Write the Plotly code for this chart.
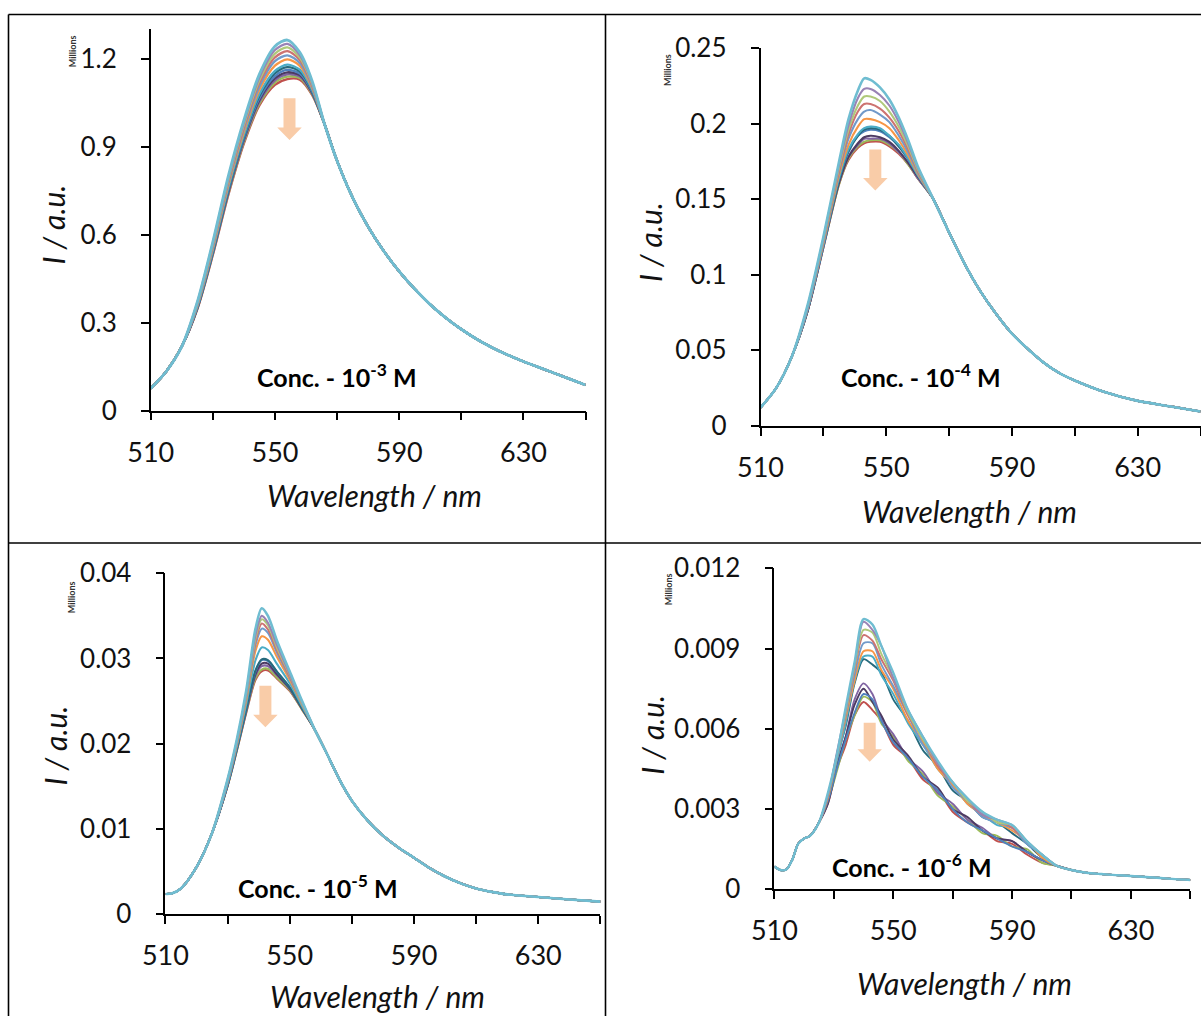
import plotly.graph_objects as go

W, H = 1201, 1016

# Series colours, drawn from the lowest-peak spectrum to the highest-peak spectrum
COLORS = ["#C0504D", "#9BBB59", "#8064A2", "#4D3B62", "#4F81BD", "#276A7C",
          "#4BACC6", "#F79646", "#729ACA", "#CD7371", "#AFC97A", "#9983B5", "#6FBDD1"]

# ---------------- Panel A : Conc. 10^-3 M (values in millions) ----------------
WL_A_LEFT = [510, 515, 520]
I_A_LEFT = [0.075, 0.133, 0.218]
WL_A_MID = [525, 530, 535, 540, 545, 550, 554, 558, 562]
I_A_MID = [
    [0.345, 0.530, 0.735, 0.910, 1.040, 1.110, 1.130, 1.128, 1.075],
    [0.347, 0.533, 0.739, 0.915, 1.046, 1.118, 1.138, 1.134, 1.078],
    [0.348, 0.535, 0.743, 0.920, 1.053, 1.126, 1.146, 1.139, 1.081],
    [0.349, 0.538, 0.746, 0.924, 1.059, 1.133, 1.153, 1.144, 1.083],
    [0.351, 0.540, 0.750, 0.928, 1.065, 1.140, 1.161, 1.149, 1.086],
    [0.353, 0.544, 0.755, 0.934, 1.073, 1.150, 1.171, 1.156, 1.090],
    [0.354, 0.546, 0.759, 0.939, 1.079, 1.158, 1.179, 1.162, 1.093],
    [0.358, 0.553, 0.768, 0.950, 1.094, 1.176, 1.197, 1.175, 1.099],
    [0.360, 0.558, 0.775, 0.959, 1.105, 1.191, 1.211, 1.185, 1.104],
    [0.363, 0.562, 0.782, 0.967, 1.117, 1.204, 1.225, 1.195, 1.109],
    [0.365, 0.567, 0.788, 0.975, 1.127, 1.217, 1.238, 1.203, 1.114],
    [0.368, 0.571, 0.794, 0.982, 1.136, 1.229, 1.250, 1.212, 1.118],
    [0.370, 0.575, 0.800, 0.990, 1.147, 1.242, 1.263, 1.221, 1.123],
]
WL_A_RIGHT = [566, 570, 575, 580, 585, 590, 595, 600, 605, 610, 615, 620, 625, 630, 635, 640, 645, 650]
I_A_RIGHT = [0.975, 0.851, 0.726, 0.626, 0.544, 0.474, 0.414, 0.361, 0.316, 0.277, 0.243, 0.214,
             0.189, 0.167, 0.147, 0.127, 0.107, 0.087]

# ---------------- Panel B : Conc. 10^-4 M ----------------
WL_B_LEFT = [510, 515, 520]
I_B_LEFT = [0.012, 0.025, 0.046]
WL_B_MID = [525, 530, 535, 538, 541, 543, 545, 548, 551, 554, 557, 560]
I_B_MID = [
    [0.076, 0.118, 0.160, 0.176, 0.184, 0.187, 0.188, 0.188, 0.185, 0.180, 0.173, 0.164],
    [0.076, 0.118, 0.160, 0.177, 0.185, 0.188, 0.189, 0.189, 0.186, 0.181, 0.173, 0.164],
    [0.076, 0.118, 0.161, 0.178, 0.186, 0.190, 0.190, 0.190, 0.187, 0.181, 0.174, 0.164],
    [0.076, 0.119, 0.161, 0.178, 0.187, 0.191, 0.192, 0.191, 0.188, 0.182, 0.174, 0.165],
    [0.077, 0.119, 0.163, 0.181, 0.192, 0.195, 0.196, 0.195, 0.191, 0.185, 0.176, 0.166],
    [0.077, 0.120, 0.163, 0.182, 0.192, 0.196, 0.197, 0.196, 0.192, 0.185, 0.177, 0.166],
    [0.077, 0.120, 0.164, 0.183, 0.193, 0.197, 0.198, 0.197, 0.192, 0.186, 0.177, 0.166],
    [0.078, 0.121, 0.166, 0.186, 0.198, 0.203, 0.203, 0.201, 0.197, 0.189, 0.179, 0.167],
    [0.078, 0.122, 0.168, 0.190, 0.203, 0.208, 0.209, 0.206, 0.201, 0.192, 0.181, 0.168],
    [0.079, 0.122, 0.169, 0.193, 0.208, 0.213, 0.213, 0.210, 0.204, 0.195, 0.183, 0.169],
    [0.079, 0.123, 0.171, 0.196, 0.212, 0.218, 0.218, 0.215, 0.208, 0.198, 0.185, 0.170],
    [0.079, 0.124, 0.173, 0.199, 0.217, 0.223, 0.223, 0.219, 0.212, 0.201, 0.187, 0.171],
    [0.080, 0.125, 0.175, 0.203, 0.222, 0.230, 0.229, 0.224, 0.216, 0.204, 0.189, 0.172],
]
WL_B_RIGHT = [565, 570, 575, 580, 585, 590, 595, 600, 605, 610, 620, 630, 640, 650]
I_B_RIGHT = [0.150, 0.128, 0.107, 0.089, 0.074, 0.061, 0.051, 0.042, 0.035, 0.030, 0.022, 0.0165, 0.013, 0.0095]

# ---------------- Panel C : Conc. 10^-5 M ----------------
WL_C_LEFT = [510, 512, 515, 520, 525]
I_C_LEFT = [0.00235, 0.0024, 0.0030, 0.0055, 0.0095]
WL_C_MID = [530, 533, 536, 539, 541, 543, 546, 550, 554]
I_C_MID = [
    [0.0150, 0.0192, 0.0236, 0.0275, 0.0285, 0.0286, 0.0276, 0.0262, 0.0240],
    [0.0150, 0.0192, 0.0237, 0.0277, 0.0287, 0.0288, 0.0277, 0.0263, 0.0240],
    [0.0151, 0.0193, 0.0238, 0.0280, 0.0291, 0.0291, 0.0280, 0.0264, 0.0241],
    [0.0151, 0.0194, 0.0239, 0.0282, 0.0294, 0.0294, 0.0281, 0.0265, 0.0241],
    [0.0151, 0.0194, 0.0240, 0.0285, 0.0298, 0.0297, 0.0284, 0.0266, 0.0242],
    [0.0152, 0.0195, 0.0241, 0.0286, 0.0299, 0.0298, 0.0284, 0.0266, 0.0242],
    [0.0153, 0.0197, 0.0246, 0.0298, 0.0313, 0.0310, 0.0293, 0.0271, 0.0244],
    [0.0155, 0.0199, 0.0251, 0.0309, 0.0326, 0.0322, 0.0301, 0.0275, 0.0246],
    [0.0155, 0.0201, 0.0254, 0.0316, 0.0335, 0.0330, 0.0306, 0.0278, 0.0247],
    [0.0156, 0.0202, 0.0256, 0.0320, 0.0341, 0.0334, 0.0309, 0.0279, 0.0248],
    [0.0157, 0.0203, 0.0257, 0.0324, 0.0346, 0.0339, 0.0312, 0.0281, 0.0248],
    [0.0157, 0.0203, 0.0259, 0.0328, 0.0350, 0.0342, 0.0315, 0.0282, 0.0249],
    [0.0158, 0.0205, 0.0262, 0.0335, 0.0359, 0.0350, 0.0320, 0.0285, 0.0250],
]
WL_C_RIGHT = [558, 562, 566, 570, 575, 580, 585, 590, 595, 600, 605, 610, 615, 620, 630, 640, 650]
I_C_RIGHT = [0.0217, 0.0188, 0.0158, 0.0133, 0.0110, 0.0092, 0.0078, 0.0066, 0.0054, 0.0044,
             0.0036, 0.0030, 0.0026, 0.0023, 0.0020, 0.0017, 0.00145]

# ---------------- Panel D : Conc. 10^-6 M ----------------
WL_D_LEFT = [510, 512, 514, 516, 518, 520, 522, 525]
I_D_LEFT = [0.00085, 0.00072, 0.00074, 0.0011, 0.0017, 0.0019, 0.0020, 0.0025]
WL_D_MID = [528, 531, 534, 537, 540, 543, 546, 550, 555, 560, 565, 570, 575, 580, 585, 590, 595, 600]
I_D_MID = [
    [0.0032, 0.0045, 0.0054, 0.0065, 0.0070, 0.0067, 0.0063, 0.0054, 0.0049, 0.0041, 0.0037, 0.0029, 0.0025, 0.0022, 0.0018, 0.0017, 0.0013, 0.0010],
    [0.0033, 0.0044, 0.0056, 0.0065, 0.0072, 0.0070, 0.0062, 0.0057, 0.0048, 0.0043, 0.0035, 0.0031, 0.0026, 0.0021, 0.0020, 0.0016, 0.0015, 0.0010],
    [0.0033, 0.0047, 0.0057, 0.0071, 0.0077, 0.0073, 0.0064, 0.0058, 0.0049, 0.0044, 0.0036, 0.0032, 0.0026, 0.0023, 0.0019, 0.0018, 0.0014, 0.0011],
    [0.0032, 0.0046, 0.0057, 0.0069, 0.0075, 0.0070, 0.0065, 0.0056, 0.0050, 0.0042, 0.0038, 0.0030, 0.0027, 0.0022, 0.0019, 0.0018, 0.0014, 0.0011],
    [0.0033, 0.0045, 0.0056, 0.0066, 0.0073, 0.0071, 0.0063, 0.0055, 0.0049, 0.0042, 0.0037, 0.0030, 0.0025, 0.0022, 0.0019, 0.0016, 0.0014, 0.0011],
    [0.0034, 0.0049, 0.0061, 0.0077, 0.0086, 0.0084, 0.0081, 0.0071, 0.0063, 0.0052, 0.0046, 0.0037, 0.0033, 0.0027, 0.0025, 0.0021, 0.0017, 0.0012],
    [0.0035, 0.0048, 0.0062, 0.0078, 0.0087, 0.0087, 0.0080, 0.0073, 0.0062, 0.0054, 0.0045, 0.0039, 0.0032, 0.0028, 0.0024, 0.0023, 0.0017, 0.0013],
    [0.0034, 0.0049, 0.0064, 0.0078, 0.0089, 0.0089, 0.0082, 0.0075, 0.0063, 0.0055, 0.0045, 0.0039, 0.0032, 0.0028, 0.0025, 0.0022, 0.0018, 0.0012],
    [0.0035, 0.0049, 0.0065, 0.0080, 0.0092, 0.0092, 0.0084, 0.0076, 0.0065, 0.0054, 0.0047, 0.0038, 0.0033, 0.0027, 0.0025, 0.0023, 0.0017, 0.0013],
    [0.0035, 0.0050, 0.0065, 0.0082, 0.0095, 0.0093, 0.0086, 0.0078, 0.0065, 0.0056, 0.0046, 0.0040, 0.0033, 0.0028, 0.0026, 0.0023, 0.0018, 0.0013],
    [0.0035, 0.0050, 0.0066, 0.0083, 0.0097, 0.0096, 0.0088, 0.0079, 0.0066, 0.0056, 0.0047, 0.0040, 0.0033, 0.0029, 0.0025, 0.0024, 0.0018, 0.0013],
    [0.0035, 0.0051, 0.0067, 0.0084, 0.0100, 0.0097, 0.0091, 0.0079, 0.0067, 0.0057, 0.0047, 0.0040, 0.0034, 0.0028, 0.0026, 0.0024, 0.0018, 0.0013],
    [0.0036, 0.0050, 0.0068, 0.0085, 0.0101, 0.0099, 0.0091, 0.0081, 0.0067, 0.0057, 0.0048, 0.0040, 0.0034, 0.0029, 0.0026, 0.0024, 0.0018, 0.0013],
]
WL_D_RIGHT = [605, 610, 615, 620, 625, 630, 635, 640, 645, 650]
I_D_RIGHT = [0.00088, 0.00072, 0.00062, 0.00057, 0.00053, 0.0005, 0.00046, 0.00042, 0.00038, 0.00035]

X_TICKS = [510, 550, 590, 630]
CONC_LABELS = ["-3", "-4", "-5", "-6"]

# ---------------- layout geometry (pixels) ----------------
def px(x):
    return x / W


def py(y):
    return 1 - y / H


FONT = "Lato, 'Open Sans', sans-serif"
INK = "#111111"

panels = [
    dict(wl=(WL_A_LEFT, WL_A_MID, WL_A_RIGHT), iv=(I_A_LEFT, I_A_MID, I_A_RIGHT),
         xpx=(150.7, 585.6), ypx=(29.2, 410.5), yr=[0, 1.3], dt=0.3,
         conc=(336.5, 375.5), xt=(374.5, 494.5), yt=(52.5, 225), mil=(72.2, 51),
         arrow=(289.5, 98.3, 140.0), width=2.3),
    dict(wl=(WL_B_LEFT, WL_B_MID, WL_B_RIGHT), iv=(I_B_LEFT, I_B_MID, I_B_RIGHT),
         xpx=(760.5, 1200.5), ypx=(48.1, 425.8), yr=[0, 0.25], dt=0.05,
         conc=(921, 375.5), xt=(969, 511), yt=(650, 242), mil=(668, 70),
         arrow=(875.3, 149.5, 190.5), width=2.1),
    dict(wl=(WL_C_LEFT, WL_C_MID, WL_C_RIGHT), iv=(I_C_LEFT, I_C_MID, I_C_RIGHT),
         xpx=(165.4, 600.4), ypx=(573.3, 914.0), yr=[0, 0.04], dt=0.01,
         conc=(317.7, 886.5), xt=(378, 996), yt=(54.5, 746), mil=(71.2, 597),
         arrow=(265.4, 685.7, 727.3), width=2.1),
    dict(wl=(WL_D_LEFT, WL_D_MID, WL_D_RIGHT), iv=(I_D_LEFT, I_D_MID, I_D_RIGHT),
         xpx=(774.4, 1190.3), ypx=(568.3, 889.3), yr=[0, 0.012], dt=0.003,
         conc=(912, 865), xt=(964, 983), yt=(651.7, 735), mil=(668.2, 589),
         arrow=(869.7, 722.7, 761.7), width=1.9),
]

fig = go.Figure()
annotations = []
shapes = []
layout_axes = {}

for k, p in enumerate(panels):
    n = "" if k == 0 else str(k + 1)
    xa, ya = "x" + n, "y" + n
    wl_l, wl_m, wl_r = p["wl"]
    iv_l, iv_m, iv_r = p["iv"]
    for i, mid in enumerate(iv_m):
        fig.add_trace(go.Scatter(
            x=wl_l + wl_m + wl_r, y=iv_l + mid + iv_r, mode="lines",
            line=dict(color=COLORS[i], width=p["width"] + (0.5 if i == len(iv_m) - 1 else 0),
                      shape="spline", smoothing=0.8),
            xaxis=xa, yaxis=ya, showlegend=False, hoverinfo="skip"))

    layout_axes["xaxis" + n] = dict(
        domain=[px(p["xpx"][0]), px(p["xpx"][1])], range=[510, 650], anchor=ya,
        automargin=False,
        tickmode="array", tickvals=X_TICKS, ticks="outside", ticklen=8, tickwidth=1.5,
        tickcolor="black", showline=True, linecolor="black", linewidth=1.5,
        showgrid=False, zeroline=False, ticklabelstandoff=9,
        tickfont=dict(family=FONT, size=27, color=INK),
        minor=dict(tickmode="linear", tick0=510, dtick=20, ticks="outside", ticklen=8,
                   tickwidth=1.5, tickcolor="black", showgrid=False))
    layout_axes["yaxis" + n] = dict(
        domain=[py(p["ypx"][1]), py(p["ypx"][0])], range=p["yr"], anchor=xa,
        automargin=False,
        tickmode="linear", tick0=0, dtick=p["dt"], ticks="outside", ticklen=8,
        tickwidth=1.5, tickcolor="black", showline=True, linecolor="black",
        linewidth=1.5, showgrid=False, zeroline=False, ticklabelstandoff=19,
        tickfont=dict(family=FONT, size=26, color=INK))

    cx, cy = p["conc"]
    annotations.append(dict(
        text="<b>Conc. - 10<sup>" + CONC_LABELS[k] + "</sup> M</b>", x=px(cx), y=py(cy),
        xref="paper", yref="paper", showarrow=False, xanchor="center", yanchor="middle",
        font=dict(family=FONT, size=25, color="black")))
    tx, ty = p["xt"]
    annotations.append(dict(
        text="<i>Wavelength / nm</i>", x=px(tx), y=py(ty), xref="paper", yref="paper",
        showarrow=False, xanchor="center", yanchor="middle",
        font=dict(family=FONT, size=30, color=INK)))
    yx, yy = p["yt"]
    annotations.append(dict(
        text="<i>I / a.u.</i>", x=px(yx), y=py(yy), xref="paper", yref="paper",
        showarrow=False, xanchor="center", yanchor="middle", textangle=-90,
        font=dict(family=FONT, size=30, color=INK)))
    mx, my = p["mil"]
    annotations.append(dict(
        text="<b>Millions</b>", x=px(mx), y=py(my), xref="paper", yref="paper",
        showarrow=False, xanchor="center", yanchor="middle", textangle=-90,
        font=dict(family=FONT, size=9, color="#333333")))

    acx, atop, atip = p["arrow"]
    sw, hw, hh = 12.0, 24.5, 12.5
    pts = [(acx - sw / 2, atop), (acx + sw / 2, atop), (acx + sw / 2, atip - hh),
           (acx + hw / 2, atip - hh), (acx, atip), (acx - hw / 2, atip - hh),
           (acx - sw / 2, atip - hh)]
    path = "M " + " L ".join(f"{px(a):.5f},{py(b):.5f}" for a, b in pts) + " Z"
    shapes.append(dict(type="path", path=path, xref="paper", yref="paper",
                       fillcolor="#F9CCA8", line=dict(width=0), layer="above"))

# table borders around the four panels
border = dict(color="black", width=1.6)
for (x0, y0, x1, y1) in [(8.5, 14.5, 1201, 14.5), (8.5, 14.5, 8.5, 1016),
                         (605.5, 14.5, 605.5, 1016), (8.5, 543, 1201, 543)]:
    shapes.append(dict(type="line", xref="paper", yref="paper", x0=px(x0), y0=py(y0),
                       x1=px(x1), y1=py(y1), line=border, layer="above"))

fig.update_layout(
    width=W, height=H, autosize=False, margin=dict(l=0, r=0, t=0, b=0, pad=0),
    paper_bgcolor="white", plot_bgcolor="white", showlegend=False,
    annotations=annotations, shapes=shapes, **layout_axes)

fig.write_html("out.html")
